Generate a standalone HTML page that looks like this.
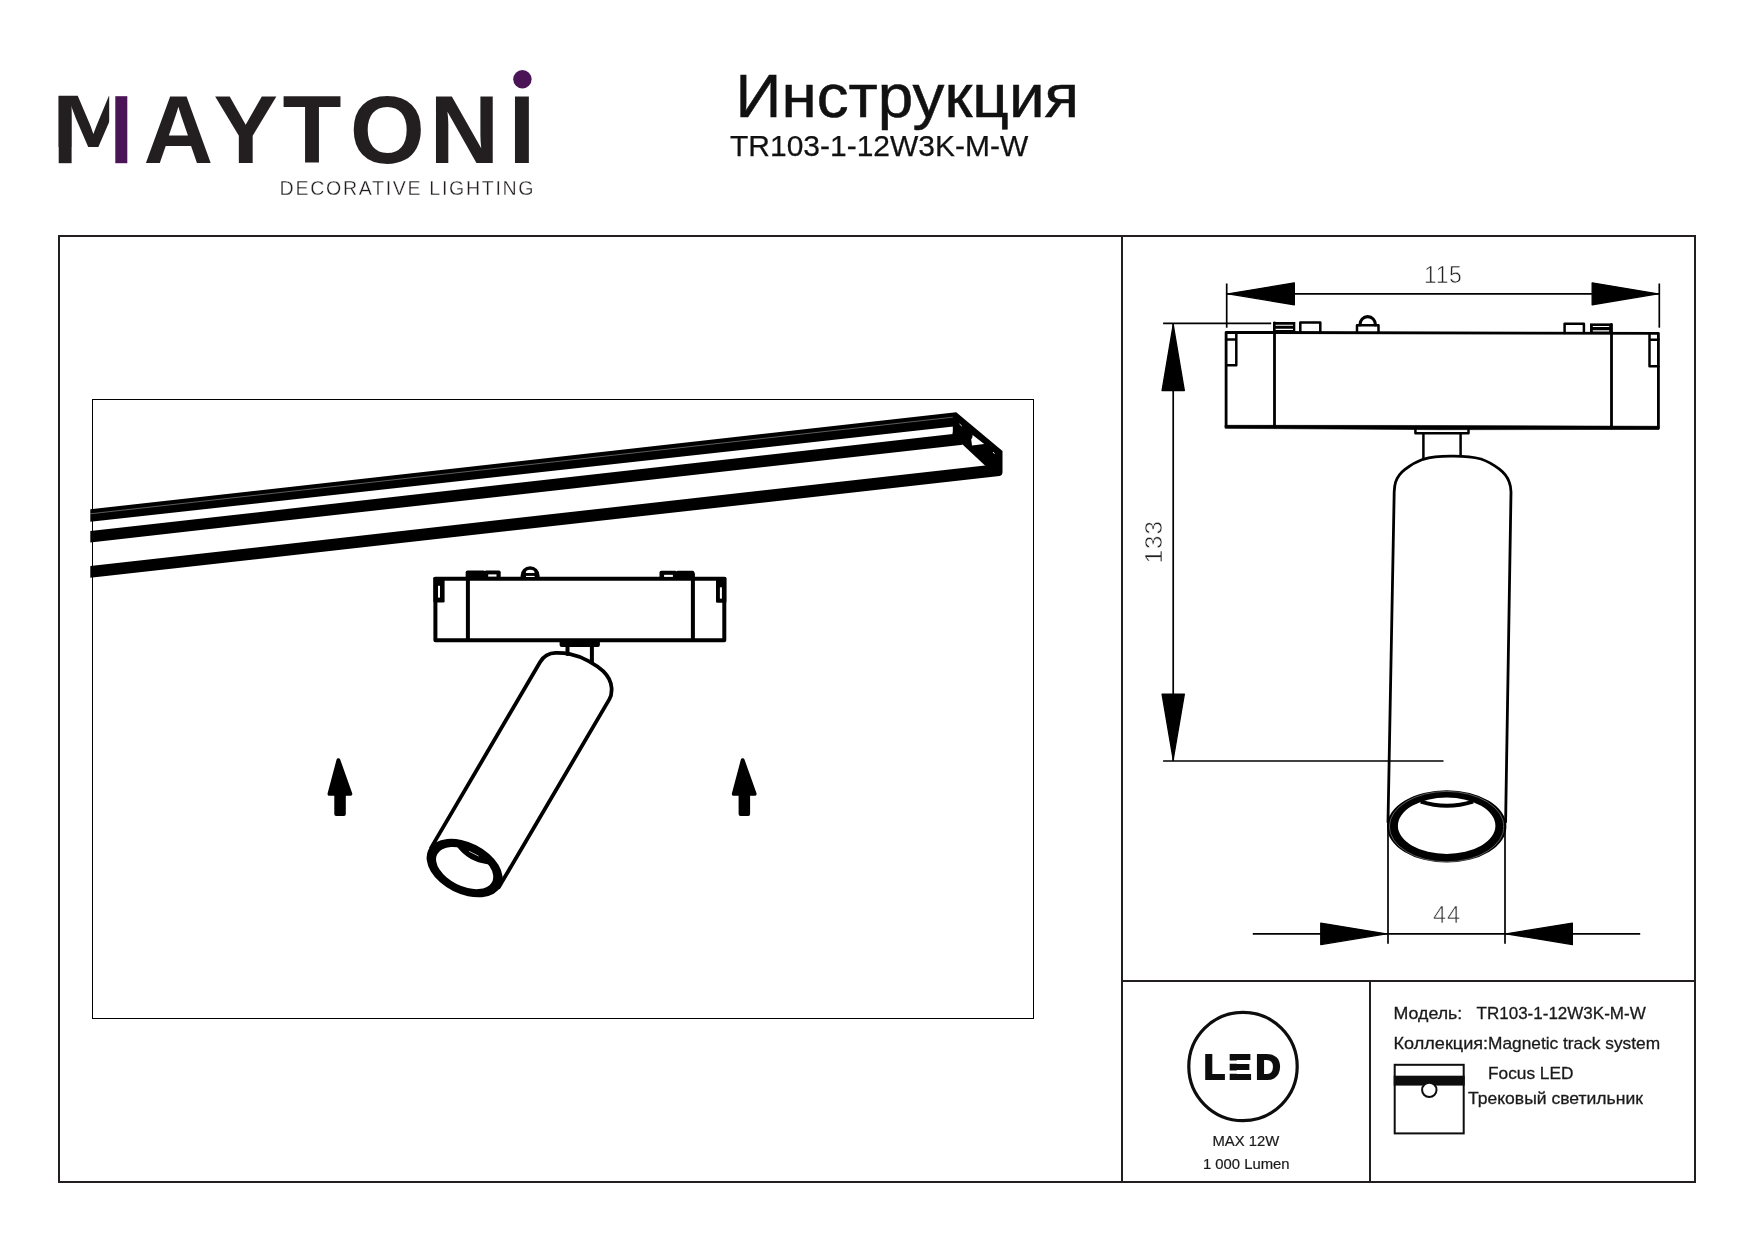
<!DOCTYPE html>
<html lang="ru"><head><meta charset="utf-8"><title>MAYTONI Инструкция TR103-1-12W3K-M-W</title>
<style>
html,body{margin:0;padding:0;background:#fff;}
body{width:1754px;height:1241px;overflow:hidden;}
svg{display:block;}
text{font-family:"Liberation Sans",sans-serif;}
.b{font-weight:bold;}
</style></head><body>
<svg width="1754" height="1241" viewBox="0 0 1754 1241">
<rect width="1754" height="1241" fill="#fff"/>
<defs><filter id="nf" filterUnits="userSpaceOnUse" x="0" y="0" width="1754" height="1241" color-interpolation-filters="sRGB"><feOffset dx="0" dy="0"/></filter></defs>
<g filter="url(#nf)">
<g id="logo" aria-label="MAYTONI DECORATIVE LIGHTING">
<defs><clipPath id="lc"><rect x="0" y="60" width="109.2" height="130"/><rect x="131" y="60" width="420" height="130"/></clipPath></defs>
<text class="b" font-size="96.6" y="163.1" fill="#231f20" clip-path="url(#lc)"><tspan x="52.1" y="147.4" font-size="74" textLength="82.6" lengthAdjust="spacingAndGlyphs">M</tspan><tspan y="163.1" x="143.5 213.5 282.4 349.8 429.6 508.6">AYTONI</tspan></text>
<rect x="58.7" y="96.2" width="12.9" height="67" fill="#231f20"/>
<rect x="115.3" y="96.2" width="12" height="67" fill="#4b1456"/>
<circle cx="522.4" cy="79.3" r="9.2" fill="#4b1456"/>
<text x="279.6" y="194.6" font-size="19.6" fill="#231f20" stroke="#fff" stroke-width="0.3" textLength="254" lengthAdjust="spacing">DECORATIVE LIGHTING</text>
</g>
<g id="title" fill="#111">
<text x="735.6" y="117.4" font-size="60.6" textLength="343.5" lengthAdjust="spacingAndGlyphs" stroke="#111" stroke-width="0.5">Инструкция</text>
<text x="730" y="155.9" font-size="30.2" textLength="298.2" lengthAdjust="spacingAndGlyphs" stroke="#111" stroke-width="0.25">TR103-1-12W3K-M-W</text>
</g>
<g id="frame" fill="none" stroke="#231f20" stroke-width="2">
<rect x="59" y="236" width="1636" height="946"/>
<line x1="1122" y1="236" x2="1122" y2="1182"/>
<line x1="1122" y1="981" x2="1695" y2="981"/>
<line x1="1370" y1="981" x2="1370" y2="1182"/>
</g>
<rect x="92.5" y="399.5" width="941" height="619" fill="none" stroke="#000" stroke-width="1"/>
<g id="track" fill="#000" stroke="none">
<polygon points="90.3,509.3 956.2,412.2 958,426 90.3,521.8"/>
<polygon points="90.3,531.1 952.8,434 962.8,444.7 90.3,542.4"/>
<polygon points="90.3,566.1 985,465.4 1001,470 999.5,476.1 90.3,577.8"/>
<path d="M956.2,412.2 L1002.5,450.9 L1002.5,472 Q1002.5,475.5 999.5,476.1 L985,465.4 L962.8,444.7 L952.8,434 L952.8,426 Z"/>
<polygon points="970.4,433.3 984.2,444 972,445.5" fill="#fff"/>
<circle cx="962.7" cy="433.9" r="10.2"/>
<line x1="90.3" y1="513.8" x2="952.8" y2="417.2" stroke="#fff" stroke-width="0.6" opacity="0.6"/>
<line x1="959.5" y1="424" x2="961.8" y2="426" stroke="#fff" stroke-width="0.9"/>
<line x1="993" y1="452" x2="994.6" y2="453.8" stroke="#fff" stroke-width="0.9"/>
</g>
<g id="lamp1" fill="none" stroke="#000" stroke-width="4" stroke-linejoin="round" stroke-linecap="round">
<rect x="435.4" y="578.7" width="288.9" height="61.5"/>
<line x1="467.9" y1="574" x2="467.9" y2="640"/>
<line x1="692.9" y1="574" x2="692.9" y2="640"/>
<g stroke="none" fill="#000">
<rect x="465.7" y="570.4" width="19.6" height="9" rx="1.8"/><rect x="484.3" y="570.4" width="16.4" height="9" rx="1.8"/><rect x="470" y="573" width="28" height="6"/>
<rect x="488.2" y="574.4" width="8.3" height="2.2" fill="#fff"/>
<rect x="659.5" y="570.7" width="17.4" height="9" rx="1.8"/><rect x="675.9" y="570.7" width="18.4" height="9" rx="1.8"/><rect x="662" y="573.3" width="28" height="6"/>
<rect x="664.1" y="574.8" width="8.8" height="2.1" fill="#fff"/>
<rect x="433.4" y="577" width="11.2" height="25.4" rx="1.2"/>
<rect x="438" y="585.8" width="2" height="11.8" fill="#fff"/>
<rect x="716" y="577" width="10.4" height="25.7" rx="1.2"/>
<rect x="719.9" y="587.3" width="2" height="11.3" fill="#fff"/>
<rect x="559.6" y="640.5" width="40.3" height="6.4" rx="2"/>
</g>
<path d="M520.6,578.5 L520.6,575.8 A9.5,9.6 0 0 1 539.6,575.8 L539.6,578.5 Z" fill="#000" stroke="none"/>
<path d="M525.8,573.1 A4.4,3.3 0 0 1 534.6,573.1 Z" fill="#fff" stroke="none"/>
<rect x="526" y="575.9" width="8.6" height="1.1" fill="#fff" stroke="none"/>
<line x1="567.5" y1="645" x2="567.5" y2="654"/>
<line x1="591.9" y1="645" x2="591.9" y2="662"/>
<g transform="translate(465,867.5) rotate(30.4)">
<path stroke-width="3.8" d="M -39.2,0 L -39.2,-215 C -39.2,-223 -36,-227.5 -30.4,-230.9 C -26,-233.6 -22,-235.6 -17.3,-237.2 C -11,-239.3 -4,-240.5 2.2,-240.65 C 8,-240.8 14,-240.6 19.8,-239.3 C 26.5,-237.6 31.6,-235 35.6,-229 C 37.6,-226 39.4,-223 39.4,-218 L 39.2,0"/>
<path fill="#000" stroke="none" fill-rule="evenodd" transform="translate(0,0.7) rotate(-3.7)" d="M-40.6,0 A40.6,25.6 0 1 0 40.6,0 A40.6,25.6 0 1 0 -40.6,0 Z M-30.7,0 A30.7,17.8 0 1 0 30.7,0 A30.7,17.8 0 1 0 -30.7,0 Z"/>
<path fill="#000" stroke="none" d="M-17.6,-13.9 Q0,-6.4 17.6,-14.2 L22,-16 Q0,-27 -22,-16 Z"/>
<line x1="-4.3" y1="-16.1" x2="5.6" y2="-16.7" stroke="#fff" stroke-width="0.6"/>
</g>
</g>
<path transform="translate(0,0)" d="M338.4,760.1 L350.4,793.9 L343.9,793.9 L343.9,814 L336.2,814 L336.2,793.9 L329.4,793.9 Z" fill="#000" stroke="#000" stroke-width="3.8" stroke-linejoin="round"/>
<path transform="translate(404.3,0)" d="M338.4,760.1 L350.4,793.9 L343.9,793.9 L343.9,814 L336.2,814 L336.2,793.9 L329.4,793.9 Z" fill="#000" stroke="#000" stroke-width="3.8" stroke-linejoin="round"/>
<g id="lamp2" fill="none" stroke="#000" stroke-width="2.8" stroke-linejoin="round" stroke-linecap="round">
<polygon points="1226.1,332.4 1658.4,333.4 1658.4,427.9 1226.1,426.8"/>
<polygon points="1225.4,425.3 1440,425.5 1659.1,426.3 1659.1,429.4 1440,429.7 1225.4,428.3" fill="#000" stroke-width="0.6"/>
<line x1="1274.5" y1="323" x2="1274.5" y2="427"/>
<line x1="1611.5" y1="324.5" x2="1611.5" y2="428"/>
<g stroke-width="2.5">
<rect x="1273" y="322" width="22.3" height="10" fill="#000" stroke="none"/><path d="M1275.6,324.8 h17.4 v1 h-17.4 Z M1275.6,328.8 h17.4 v1.1 h-17.4 Z" fill="#fff" stroke="none"/>
<path d="M1300.3,332 L1300.3,322.6 L1320.3,322.6 L1320.3,332"/>
<path d="M1564.6,333 L1564.6,323.8 L1583.9,323.8 L1583.9,333"/>
<rect x="1590" y="323.4" width="21.8" height="10" fill="#000" stroke="none"/><path d="M1592.8,326.1 h16.4 v1 h-16.4 Z M1592.8,330.3 h16.4 v1.1 h-16.4 Z" fill="#fff" stroke="none"/>
<path d="M1357,332 L1357,325.2 L1378.5,325.2 L1378.5,332"/>
<path d="M1359.9,325 A7.8,8.4 0 0 1 1375.5,325" stroke-width="3.1"/>
<path d="M1226.1,339.4 L1236.3,339.4 M1236.3,333 L1236.3,365.3 L1226.1,365.3"/>
<path d="M1658.4,339.8 L1649.5,339.8 M1649.5,334 L1649.5,366.3 L1658.4,366.3"/>
<path d="M1415.4,428 L1415.4,433.3 L1468.5,433.3 L1468.5,428"/>
<line x1="1423.4" y1="433.5" x2="1423.4" y2="459"/>
<line x1="1460.6" y1="433.5" x2="1460.6" y2="455.5"/>
</g>
<path d="M 1388,822 L 1394.2,492 C 1394.4,487 1394.8,484.5 1395.6,482.1 C 1397.5,476.5 1400.5,472.8 1404.7,469.6 C 1410,465.5 1416,461.8 1423,459.3 C 1431,456.9 1441,456.1 1450.3,456.1 L 1453.5,456.1 C 1463,456.1 1473,456.8 1481,459 C 1488,461.4 1494,465 1499.4,469.2 C 1503.8,472.6 1507.2,476.5 1509.2,482 C 1510.2,484.5 1510.8,487 1511,492 L 1505.6,822"/>
<path fill="#000" stroke="none" fill-rule="evenodd" d="M1387,826.4 A59.7,36.2 0 1 0 1506.4,826.4 A59.7,36.2 0 1 0 1387,826.4 Z M1397.9,825.8 A48.75,28.2 0 1 0 1495.4,825.8 A48.75,28.2 0 1 0 1397.9,825.8 Z"/>
<ellipse cx="1446.7" cy="826.6" rx="57.3" ry="35.2" stroke="#fff" stroke-width="0.5" opacity="0.7"/>
<path d="M1420.7,801.6 Q1446.9,809.8 1473.1,801.6" stroke-width="4" stroke-linecap="butt"/>
</g>
<g id="dims" fill="#000" stroke="#000" stroke-width="1.7">
<line x1="1226.7" y1="283.5" x2="1226.7" y2="327.7"/>
<line x1="1659.3" y1="283.5" x2="1659.3" y2="327.7"/>
<line x1="1226.7" y1="293.8" x2="1659.3" y2="293.8"/>
<line x1="1163.1" y1="323.3" x2="1271.2" y2="323.3"/>
<line x1="1173.2" y1="323.3" x2="1173.2" y2="761"/>
<line x1="1163.1" y1="761" x2="1443.5" y2="761"/>
<line x1="1388" y1="822" x2="1388" y2="943.8"/>
<line x1="1505" y1="822" x2="1505" y2="943.8"/>
<line x1="1252.8" y1="933.8" x2="1640.2" y2="933.8"/>
<g stroke="none">
<polygon stroke="#000" stroke-width="1.3" stroke-linejoin="round" points="1228.13,293.80 1294.35,304.75 1294.35,282.85"/>
<polygon stroke="#000" stroke-width="1.3" stroke-linejoin="round" points="1657.87,293.80 1592.15,282.85 1592.15,304.75"/>
<polygon stroke="#000" stroke-width="1.3" stroke-linejoin="round" points="1173.20,324.73 1162.05,390.55 1184.36,390.55"/>
<polygon stroke="#000" stroke-width="1.3" stroke-linejoin="round" points="1173.20,759.57 1184.36,694.25 1162.05,694.25"/>
<polygon stroke="#000" stroke-width="1.3" stroke-linejoin="round" points="1386.27,933.80 1320.75,923.04 1320.75,944.55"/>
<polygon stroke="#000" stroke-width="1.3" stroke-linejoin="round" points="1506.13,933.80 1572.35,944.55 1572.35,923.04"/>
</g></g>
<g fill="#222" stroke="#fff" stroke-width="0.55" text-anchor="middle">
<text x="1443.2" y="282.8" font-size="23" letter-spacing="0.6">115</text>
<text transform="translate(1162.4,541.8) rotate(-90)" font-size="24" letter-spacing="1">133</text>
<text x="1446.9" y="923" font-size="23.4" letter-spacing="1" fill="#3a3a3a">44</text>
</g>
<g id="info">
<circle cx="1243" cy="1066.5" r="54.2" fill="none" stroke="#0d0d0d" stroke-width="3.2"/>
<text class="b" x="1203.9 1228.4 1255.7" y="1079.4" font-size="34.2" fill="#0d0d0d" stroke="#0d0d0d" stroke-width="2.2" stroke-linejoin="miter">LED</text>
<path d="M1228.6,1060.45 h9.6 v3.2 h-9.6 Z M1228.6,1070.45 h9.6 v3.2 h-9.6 Z" fill="#fff"/>
<g fill="#1a1a1a" font-size="14.5" stroke="#1a1a1a" stroke-width="0.2">
<text x="1212.4" y="1145.8" textLength="66.8" lengthAdjust="spacingAndGlyphs">MAX 12W</text>
<text x="1203" y="1169" textLength="86.6" lengthAdjust="spacingAndGlyphs">1 000 Lumen</text>
</g>
<g fill="#1a1a1a" font-size="17" stroke="#1a1a1a" stroke-width="0.3">
<text x="1393.5" y="1018.9" textLength="68.8" lengthAdjust="spacingAndGlyphs">Модель:</text>
<text x="1476.6" y="1019.3">TR103-1-12W3K-M-W</text>
<text x="1393.5" y="1048.9" textLength="94.6" lengthAdjust="spacingAndGlyphs">Коллекция:</text>
<text x="1488" y="1048.9" textLength="172.1" lengthAdjust="spacingAndGlyphs">Magnetic track system</text>
<text x="1488" y="1078.8" textLength="85.4" lengthAdjust="spacingAndGlyphs">Focus LED</text>
<text x="1468" y="1103.6" textLength="174.9" lengthAdjust="spacingAndGlyphs">Трековый светильник</text>
</g>
<rect x="1394.7" y="1064.8" width="69" height="68.6" fill="#fff" stroke="#0d0d0d" stroke-width="2"/>
<rect x="1393.7" y="1075.7" width="71" height="9.9" fill="#0d0d0d"/>
<circle cx="1429.3" cy="1089.9" r="7.2" fill="#fff" stroke="#0d0d0d" stroke-width="2"/>
</g>
</g></svg></body></html>
